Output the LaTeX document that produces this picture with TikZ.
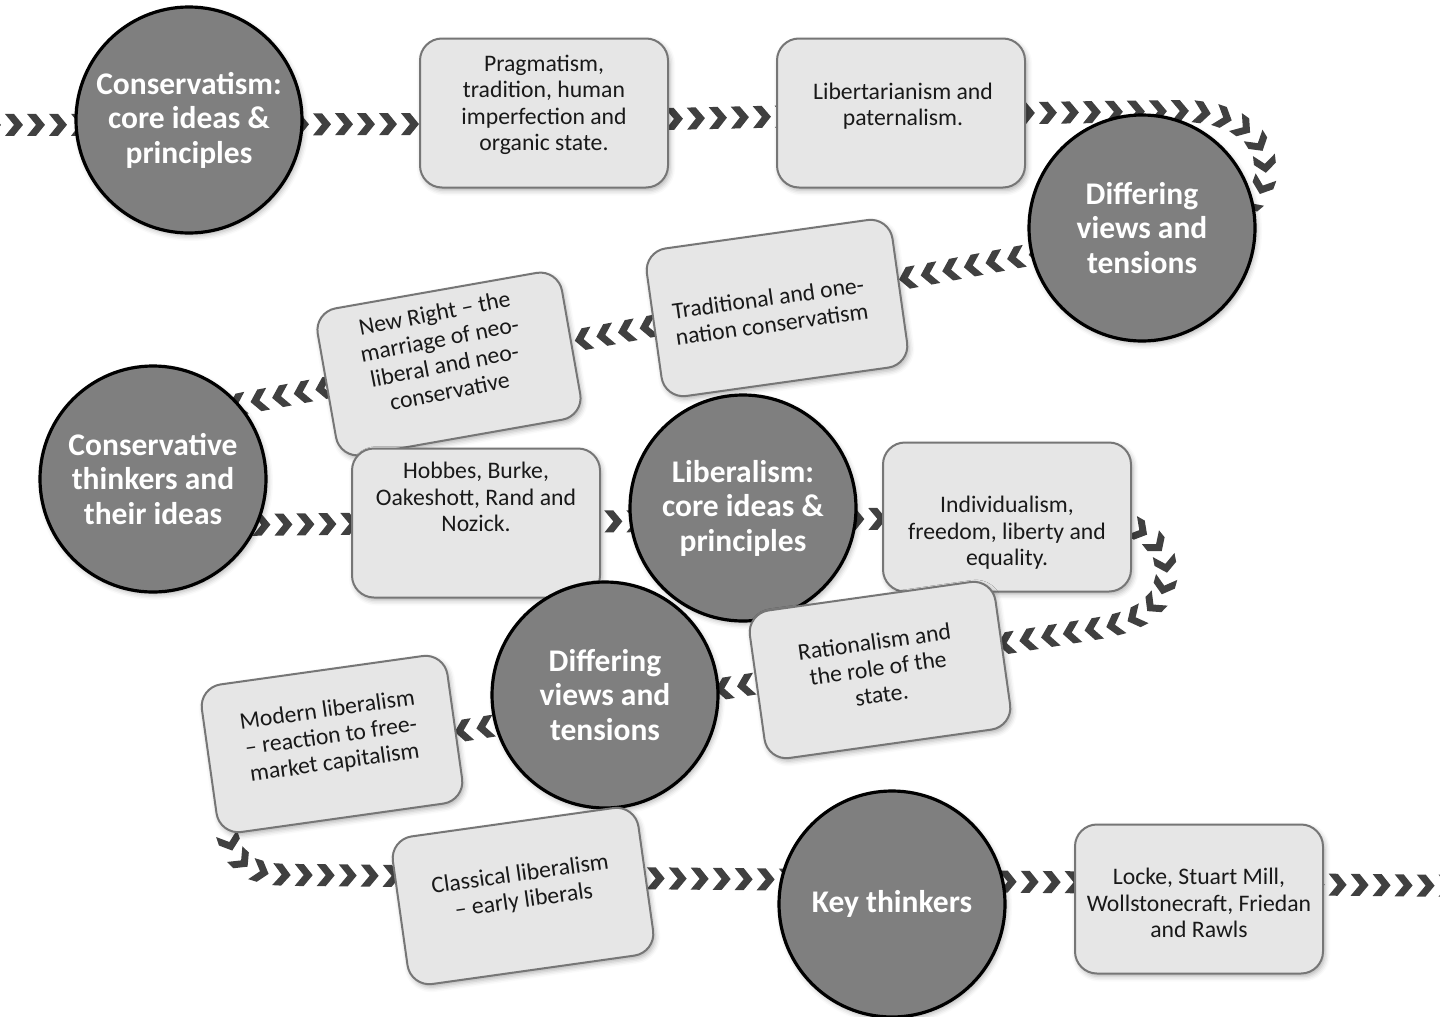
\documentclass[tikz,border=0pt]{standalone}
\usepackage{fontspec}
\setmainfont{Carlito}
\usetikzlibrary{decorations.markings,shadows.blur}
\definecolor{chev}{HTML}{404040}
\definecolor{circfill}{HTML}{7F7F7F}
\definecolor{boxfill}{HTML}{E6E6E6}
\definecolor{boxline}{HTML}{767676}
\begin{document}
\begin{tikzpicture}[x=1pt,y=-1pt,
  softshadow/.style={blur shadow={shadow xshift=2pt, shadow yshift=-3pt, shadow blur radius=5pt, shadow opacity=30}},
  circ/.style={circle, fill=circfill, draw=black, line width=3.2pt, minimum size=226pt, inner sep=0pt,
    text=white, font=\bfseries\fontsize{31.5}{34.5}\selectfont, align=center, softshadow},
  box/.style={rectangle, rounded corners=22pt, fill=boxfill, draw=boxline, line width=2pt,
    minimum width=248pt, minimum height=149pt, softshadow},
  boxtext/.style={font=\fontsize{23.7}{26.5}\selectfont, align=center, text=black!90, inner sep=0pt},
  chevpath/.style={decorate, decoration={markings,
    mark=between positions 0 and 1 step 22pt with {
      \fill[chev] (-9pt,11pt) -- (0pt,11pt) -- (9pt,0pt) -- (0pt,-11pt) -- (-9pt,-11pt) -- (0pt,0pt) -- cycle;}}}
]
\useasboundingbox (0,0) rectangle (1440,1017);

% waypoints of the chevron trail
\coordinate (w0) at (-30,125);
\coordinate (w1) at (450,124);
\coordinate (w2) at (800,116);
\coordinate (w3) at (1180,111);
\coordinate (w4) at (1265,175);
\coordinate (w5) at (1050,251);
\coordinate (w6) at (240,404);
\coordinate (w7) at (230,525);
\coordinate (w8) at (1080,517);
\coordinate (w9) at (1166,575);
\coordinate (w10) at (1100,628);
\coordinate (w11) at (330,752);
\coordinate (w12) at (232,848);
\coordinate (w13) at (300,875);
\coordinate (w14) at (1470,886);

\path[chevpath] (w0) -- (w1) -- (w2) -- (w3)
  .. controls (1240,111) and (1268,140) .. (w4)
  .. controls (1262,230) and (1150,232) .. (w5)
  -- (w6)
  .. controls (150,421) and (120,525) .. (w7)
  -- (w8)
  .. controls (1140,517) and (1168,545) .. (w9)
  .. controls (1164,605) and (1140,621) .. (w10)
  -- (w11)
  .. controls (250,765) and (214,815) .. (w12)
  .. controls (246,874) and (270,875) .. (w13)
  -- (w14);

% shapes, in stacking order
\node[circ] (c1) at (189,120) {Conservatism:\\core ideas \&\\principles};
\node[box] (b1) at (544,113) {};
\node[boxtext] (b1t) at (544,105) {Pragmatism,\\tradition, human\\imperfection and\\organic state.};
\node[box] (b2) at (901,113) {};
\node[boxtext] (b2t) at (903,106) {Libertarianism and\\paternalism.};
\node[circ] (c2) at (1142,228) {Differing\\views and\\tensions};
\node[box, rotate=8] (b3) at (777,308) {};
\node[boxtext, rotate=8] (b3t) at (770,311) {Traditional and one-\\nation conservatism};
\node[box, rotate=10] (b4) at (449,364) {};
\node[boxtext, rotate=11] (b4t) at (442,352) {New Right -- the\\marriage of neo-\\liberal and neo-\\conservative};
\node[circ] (c3) at (153,479) {Conservative\\thinkers and\\their ideas};
\node[box] (b5) at (476,523) {};
\node[boxtext] (b5t) at (476,497) {Hobbes, Burke,\\Oakeshott, Rand and\\Nozick.};
\node[circ] (c4) at (743,508) {Liberalism:\\core ideas \&\\principles};
\node[box] (b6) at (1007,517) {};
\node[boxtext] (b6t) at (1007,533) {Individualism,\\freedom, liberty and\\equality.};
\node[box, rotate=8] (b7) at (880,670) {};
\node[boxtext, rotate=8] (b7t) at (878,668) {Rationalism and\\the role of the\\state.};
\node[circ] (c5) at (605,695) {Differing\\views and\\tensions};
\node[box, rotate=8] (b8) at (332,744) {};
\node[boxtext, rotate=8] (b8t) at (331,737) {Modern liberalism\\-- reaction to free-\\market capitalism};
\node[box, rotate=8] (b9) at (523,896) {};
\node[boxtext, rotate=8] (b9t) at (522,888) {Classical liberalism\\-- early liberals};
\node[circ] (c6) at (892,904) {Key thinkers};
\node[box] (b10) at (1199,899) {};
\node[boxtext] (b10t) at (1199,903) {Locke, Stuart Mill,\\Wollstonecraft, Friedan\\and Rawls};
\end{tikzpicture}
\end{document}
